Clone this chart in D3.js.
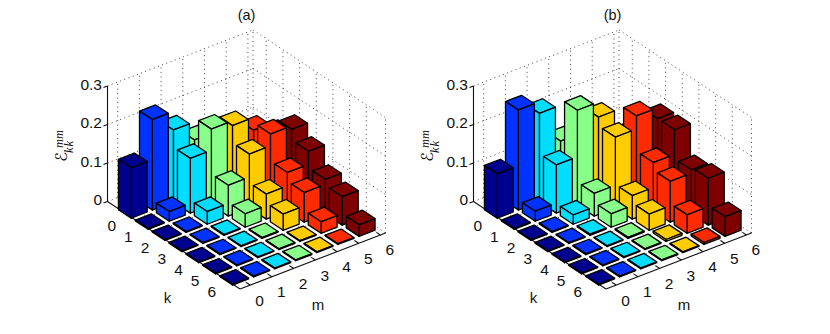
<!DOCTYPE html>
<html>
<head>
<meta charset="utf-8">
<script src="https://cdn.jsdelivr.net/npm/d3@7"></script>
<style>
  body { margin: 0; background: #fff; }
  text { font-family: "Liberation Sans", sans-serif; fill: #111; }
</style>
</head>
<body>
<div class="chart"></div>
<script>
// tick labels
const kTicks = [0, 1, 2, 3, 4, 5, 6];
const mTicks = [0, 1, 2, 3, 4, 5, 6];
const zTicks = [0, 0.1, 0.2, 0.3];
const barColors = ["#00008f", "#0033ff", "#00ddff", "#88ff88", "#ffcc00", "#ff2b00", "#7f0000"];

// bar heights, one row per m, one value per k
const barsA = [
  [0.131, 0.002, 0.002, 0.002, 0.002, 0.002, 0.002],
  [0.235, 0.025, 0.002, 0.002, 0.002, 0.002, 0.002],
  [0.187, 0.142, 0.033, 0.002, 0.002, 0.002, 0.002],
  [0.14, 0.197, 0.08, 0.035, 0.002, 0.002, 0.002],
  [0.12, 0.185, 0.14, 0.065, 0.042, 0.002, 0.002],
  [0.1, 0.152, 0.171, 0.1, 0.077, 0.03, 0.002],
  [0.09, 0.12, 0.162, 0.134, 0.09, 0.074, 0.03]
];
const barsB = [
  [0.115, 0.002, 0.002, 0.002, 0.002, 0.002, 0.002],
  [0.26, 0.026, 0.002, 0.002, 0.002, 0.002, 0.002],
  [0.23, 0.125, 0.024, 0.003, 0.002, 0.002, 0.002],
  [0.137, 0.246, 0.059, 0.035, 0.003, 0.002, 0.002],
  [0.17, 0.207, 0.184, 0.061, 0.042, 0.005, 0.002],
  [0.1, 0.13, 0.218, 0.126, 0.106, 0.048, 0.005],
  [0.08, 0.12, 0.19, 0.19, 0.115, 0.122, 0.051]
];

const svgWidth = 830;
const svgHeight = 334;
const barWidth = 0.76;

let svg = d3.select(".chart").append("svg")
  .attr("width", svgWidth).attr("height", svgHeight)
  .style("display", "block");

// floor corners in panel (a)
const leftCorner = [107.5, 201.5];
const kVec = [132.5, 87.5];
const mVec = [145.5, -56];

// the bars and the axis ticks do not share quite the same spacing
let kScale = d3.scaleLinear().domain([-1.083, 6.767]).range([0, 1]);
let mScale = d3.scaleLinear().domain([-0.335, 6.565]).range([0, 1]);
let kAxisScale = d3.scaleLinear().domain([0, 6]).range([0.1, 0.855]);
let mAxisScale = d3.scaleLinear().domain([0, 6]).range([0.07, 0.965]);
let zScale = d3.scaleLinear().domain([0, 0.3]).range([0, 115.5]);

// fractions along the two floor edges plus a height in pixels
function project(kf, mf, zv) {
  return [
    leftCorner[0] + kf * kVec[0] + mf * mVec[0],
    leftCorner[1] + kf * kVec[1] + mf * mVec[1] - zScale(zv)
  ];
}

let line = d3.line();

function drawPanel(heights, dx, title) {
  let g = svg.append("g").attr("transform", `translate(${dx}, 0)`);

  // dotted grid on the two back walls and the floor
  let grid = [];
  zTicks.forEach(z => {
    if (z > 0) {
      grid.push([project(0, 0, z), project(0, 1, z)]);
      grid.push([project(0, 1, z), project(1, 1, z)]);
    }
  });
  mTicks.forEach(m => {
    let f = mAxisScale(m);
    grid.push([project(0, f, 0), project(0, f, 0.3)]);
    grid.push([project(0, f, 0), project(1, f, 0)]);
  });
  kTicks.forEach(k => {
    let f = kAxisScale(k);
    grid.push([project(f, 1, 0), project(f, 1, 0.3)]);
    grid.push([project(f, 0, 0), project(f, 1, 0)]);
  });
  grid.push([project(0, 1, 0), project(0, 1, 0.3)]);
  grid.push([project(1, 1, 0), project(1, 1, 0.3)]);
  grid.push([project(0, 1, 0), project(1, 1, 0)]);
  grid.push([project(0, 0, 0), project(0, 1, 0)]);

  g.selectAll(".grid").data(grid).enter().append("path")
    .attr("class", "grid")
    .attr("d", d => line(d))
    .attr("fill", "none")
    .attr("stroke", "#333")
    .attr("stroke-width", 0.9)
    .attr("stroke-dasharray", "1,3.5");

  // axis lines
  let axes = [
    [project(0, 0, 0.3), project(0, 0, 0)],
    [project(0, 0, 0), project(1, 0, 0)],
    [project(1, 0, 0), project(1, 1, 0)]
  ];
  kTicks.forEach(k => axes.push([project(kAxisScale(k), 0, 0), project(kAxisScale(k), 0.028, 0)]));
  mTicks.forEach(m => axes.push([project(1, mAxisScale(m), 0), project(0.97, mAxisScale(m), 0)]));
  zTicks.forEach(z => axes.push([project(0, 0, z), project(0, -0.028, z)]));

  g.selectAll(".axis").data(axes).enter().append("path")
    .attr("class", "axis")
    .attr("d", d => line(d))
    .attr("fill", "none")
    .attr("stroke", "#111")
    .attr("stroke-width", 1.1);

  // bars, painted from the back corner to the front corner
  let bars = [];
  kTicks.forEach(k => {
    mTicks.slice().reverse().forEach(m => {
      bars.push({ k: k, m: m, z: heights[m][k] });
    });
  });

  let bar = g.selectAll(".bar").data(bars).enter().append("g").attr("class", "bar");

  function face(d, pts) {
    return line(pts.map(p => project(kScale(d.k + p[0] * barWidth / 2), mScale(d.m + p[1] * barWidth / 2), p[2] * d.z))) + "Z";
  }
  let faces = [
    [[-1, -1, 1], [1, -1, 1], [1, 1, 1], [-1, 1, 1]],
    [[1, -1, 0], [1, 1, 0], [1, 1, 1], [1, -1, 1]],
    [[-1, -1, 0], [1, -1, 0], [1, -1, 1], [-1, -1, 1]]
  ];
  faces.forEach(pts => {
    bar.append("path")
      .attr("d", d => face(d, pts))
      .attr("fill", d => barColors[d.m])
      .attr("stroke", "#000")
      .attr("stroke-width", 1.3)
      .attr("stroke-linejoin", "round");
  });

  // tick labels
  g.selectAll(".ztick").data(zTicks).enter().append("text")
    .attr("class", "ztick")
    .attr("x", 102)
    .attr("y", d => leftCorner[1] - zScale(d) + 3.5)
    .attr("text-anchor", "end")
    .style("font-size", "15.5px")
    .text(d => d);

  g.selectAll(".ktick").data(kTicks).enter().append("text")
    .attr("class", "ktick")
    .attr("x", d => project(kAxisScale(d), 0, 0)[0] - 9)
    .attr("y", d => project(kAxisScale(d), 0, 0)[1] + 20.5)
    .attr("text-anchor", "middle")
    .style("font-size", "15.5px")
    .text(d => d);

  g.selectAll(".mtick").data(mTicks).enter().append("text")
    .attr("class", "mtick")
    .attr("x", d => project(1, mAxisScale(d), 0)[0] + 9.5)
    .attr("y", d => project(1, mAxisScale(d), 0)[1] + 20.5)
    .attr("text-anchor", "middle")
    .style("font-size", "15.5px")
    .text(d => d);

  // axis labels and title
  g.append("text").attr("x", 167.5).attr("y", 303).attr("text-anchor", "middle")
    .style("font-size", "15px").text("k");
  g.append("text").attr("x", 318).attr("y", 310).attr("text-anchor", "middle")
    .style("font-size", "15px").text("m");
  g.append("text").attr("x", 246.5).attr("y", 20).attr("text-anchor", "middle")
    .style("font-size", "14.5px").text(title);

  // rotated E with the mm and kk indices
  let yLabel = g.append("g").attr("transform", "translate(66.5, 157) rotate(-90)");
  yLabel.append("text").attr("x", 0).attr("y", 0).attr("text-anchor", "middle")
    .style("font-family", "DejaVu Sans").style("font-size", "16.5px").text("ℰ");
  yLabel.append("text").attr("x", 9).attr("y", -3.5)
    .style("font-family", "Liberation Serif").style("font-style", "italic").style("font-size", "12.5px").text("mm");
  yLabel.append("text").attr("x", 4).attr("y", 6)
    .style("font-family", "Liberation Serif").style("font-style", "italic").style("font-size", "12.5px")
    .style("letter-spacing", "1px").text("kk");
}

drawPanel(barsA, 0, "(a)");
drawPanel(barsB, 366, "(b)");
</script>
</body>
</html>
